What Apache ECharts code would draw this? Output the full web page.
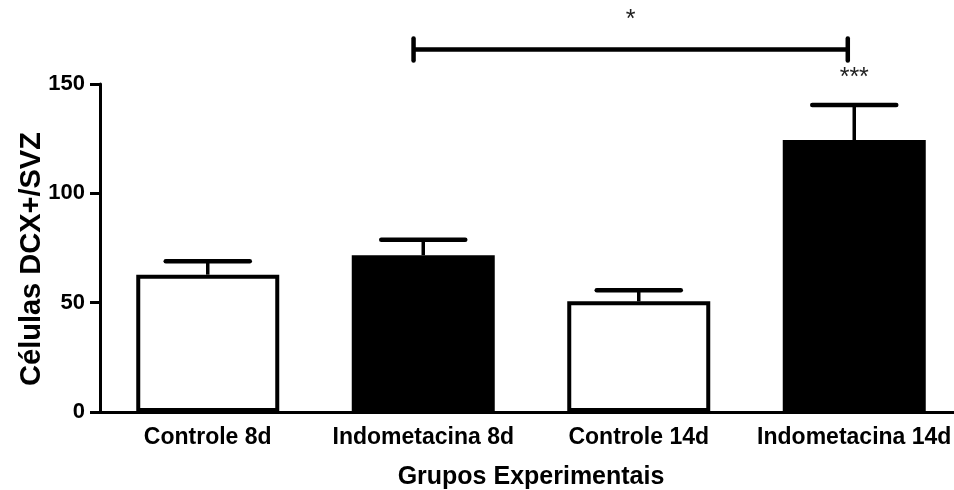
<!DOCTYPE html>
<html>
<head>
<meta charset="utf-8">
<script src="https://cdn.jsdelivr.net/npm/echarts@6/dist/echarts.min.js"></script>
<style>html,body{margin:0;padding:0;background:#fff}#c{width:954px;height:490px}</style>
</head>
<body>
<div id="c"></div>
<script>
var categories = ['Controle 8d', 'Indometacina 8d', 'Controle 14d', 'Indometacina 14d'];
var means = [62.8, 71.7, 50.6, 124.4];
var upperErr = [68.9, 78.8, 55.7, 140.4];
var barColors = ['#ffffff', '#000000', '#ffffff', '#000000'];
var yTicks = [0, 50, 100, 150];
var sigLabels = ['', '', '', '***'];
var sigY = [null, null, null, 152.8];
var bracket = [[0.955, 2.97, 165.8]];
var bracketLabel = '*';
var bracketLabelY = 179;

var FONT = 'Liberation Sans';
var chart = echarts.init(document.getElementById('c'), null, {renderer: 'canvas'});

var barData = means.map(function (v, i) {
  return {value: v, itemStyle: {color: barColors[i], borderColor: '#000', borderWidth: 4}};
});
var errData = means.map(function (v, i) { return [i, v, upperErr[i], sigY[i], sigLabels[i]]; });

chart.setOption({
  animation: false,
  backgroundColor: '#fff',
  grid: {left: 100, top: 84, width: 862, height: 328, outerBoundsMode: 'none', containLabel: false},
  xAxis: [{
    type: 'category',
    data: categories,
    axisLine: {lineStyle: {color: '#000', width: 3}},
    axisTick: {alignWithLabel: true, length: 8, lineStyle: {color: '#000', width: 3}},
    axisLabel: {interval: 0, color: '#000', fontFamily: FONT, fontWeight: 'bold', fontSize: 23, margin: 14},
    name: 'Grupos Experimentais',
    nameLocation: 'middle',
    nameGap: 53,
    nameTextStyle: {color: '#000', fontFamily: FONT, fontWeight: 'bold', fontSize: 25}
  }, {
    type: 'value', min: -0.5, max: 3.5, show: false
  }],
  yAxis: {
    type: 'value',
    min: 0, max: 150, interval: 50,
    axisLine: {show: true, onZero: false, lineStyle: {color: '#000', width: 3}},
    axisTick: {show: true, inside: false, length: 10, lineStyle: {color: '#000', width: 3}},
    splitLine: {show: false},
    axisLabel: {color: '#000', fontFamily: FONT, fontWeight: 'bold', fontSize: 22, margin: 15,
      formatter: function (v) { return yTicks.indexOf(v) >= 0 ? String(v) : ''; }},
    name: 'Células DCX+/SVZ',
    nameLocation: 'middle',
    nameMoveOverlap: false,
    nameGap: 54,
    nameTextStyle: {color: '#000', fontFamily: FONT, fontWeight: 'bold', fontSize: 29, padding: [0, 22, 0, 0]}
  },
  series: [{
    type: 'bar',
    data: barData,
    barWidth: 143,
    xAxisIndex: 0
  }, {
    type: 'custom',
    xAxisIndex: 0,
    data: errData,
    z: 5,
    renderItem: function (params, api) {
      var i = api.value(0);
      var top = api.coord([i, api.value(1)]);
      var up = api.coord([i, api.value(2)]);
      var children = [
        {type: 'line', shape: {x1: top[0], y1: top[1], x2: up[0], y2: up[1]}, style: {stroke: '#000', lineWidth: 3.5}},
        {type: 'line', shape: {x1: up[0] - 42, y1: up[1], x2: up[0] + 42, y2: up[1]}, style: {stroke: '#000', lineWidth: 4.5, lineCap: 'round'}}
      ];
      var lbl = errData[params.dataIndex][4];
      var ly = errData[params.dataIndex][3];
      if (lbl) {
        var p = api.coord([i, ly]);
        children.push({type: 'text', style: {text: lbl, x: p[0], y: p[1], align: 'center', verticalAlign: 'middle',
          fill: '#222', font: '25px "' + FONT + '"'}});
      }
      return {type: 'group', children: children};
    }
  }, {
    type: 'custom',
    xAxisIndex: 1,
    data: bracket,
    z: 5,
    renderItem: function (params, api) {
      var a = api.coord([api.value(0), api.value(2)]);
      var b = api.coord([api.value(1), api.value(2)]);
      var m = api.coord([(api.value(0) + api.value(1)) / 2, bracketLabelY]);
      return {type: 'group', children: [
        {type: 'line', shape: {x1: a[0], y1: a[1], x2: b[0], y2: b[1]}, style: {stroke: '#000', lineWidth: 4.5}},
        {type: 'line', shape: {x1: a[0], y1: a[1] - 11, x2: a[0], y2: a[1] + 11}, style: {stroke: '#000', lineWidth: 4.5, lineCap: 'round'}},
        {type: 'line', shape: {x1: b[0], y1: b[1] - 11, x2: b[0], y2: b[1] + 11}, style: {stroke: '#000', lineWidth: 4.5, lineCap: 'round'}},
        {type: 'text', style: {text: bracketLabel, x: m[0], y: m[1], align: 'center', verticalAlign: 'middle',
          fill: '#222', font: '25px "' + FONT + '"'}}
      ]};
    }
  }]
});
</script>
</body>
</html>
